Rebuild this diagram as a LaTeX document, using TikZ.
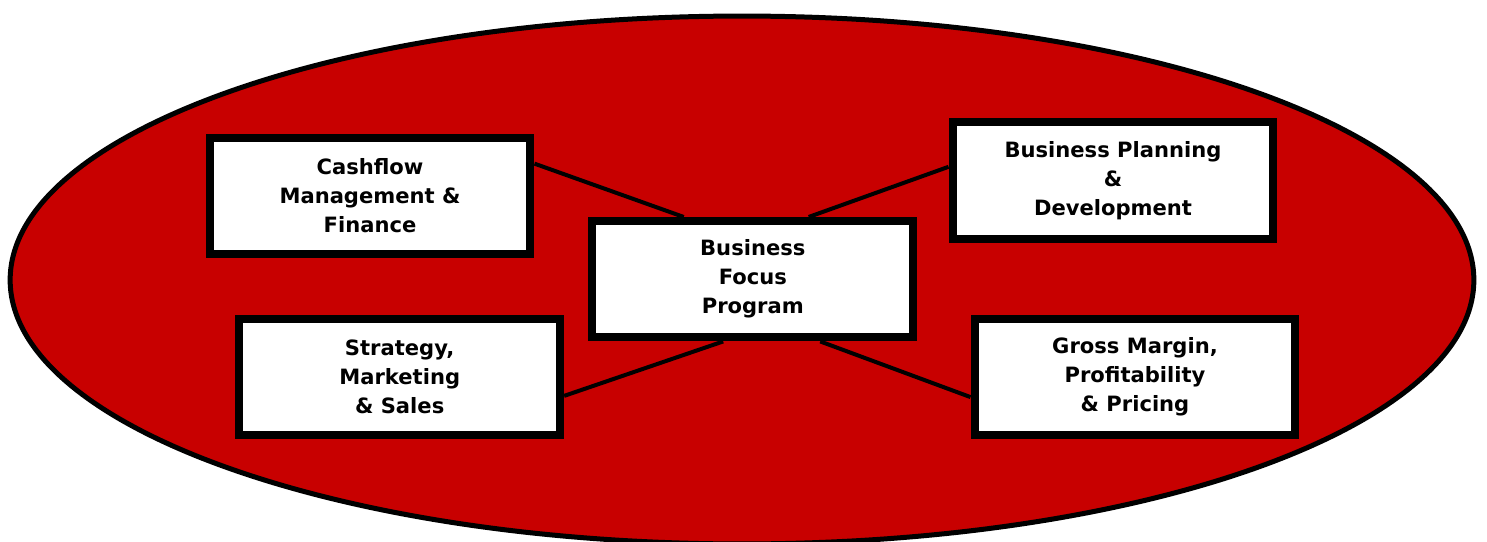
\documentclass[tikz,border=0pt]{standalone}
\usepackage{fontspec}
\setsansfont{DejaVu Sans}
\usepackage{tikz}
\usetikzlibrary{calc, positioning}
\definecolor{focusred}{RGB}{200,0,0}
\tikzset{
  topic/.style={draw=black, fill=white, line width=0.16cm, minimum width=6.42cm,
    minimum height=2.33cm, align=center, inner sep=0pt,
    font=\sffamily\bfseries\fontsize{12}{16.5}\selectfont},
  link/.style={draw=black, line width=0.08cm}
}

\begin{document}
\begin{tikzpicture}[x=0.02cm, y=-0.02cm]
\useasboundingbox (0,0) rectangle (1487,541);
\draw[line width=0.1cm, fill=focusred] (742,280) ellipse [x radius=14.64cm, y radius=5.28cm];

\node[topic] (focus) at (752.8,279.2) {Business\\Focus\\Program};
\node[topic] (cash)  at (370,196)     {Cashflow\\Management \&\\Finance};
\node[topic] (plan)  at (1113,180.5)  {Business Planning\\\&\\Development};
\node[topic] (strat) at (399.7,377.2) {Strategy,\\Marketing\\\& Sales};
\node[topic] (gross) at (1135,377.2)  {Gross Margin,\\Profitability\\\& Pricing};

\draw[link] ($(cash.north east)!0.24!(cash.south east)$) -- ($(focus.north west)!0.29!(focus.north east)$);
\draw[link] ($(plan.north west)!0.39!(plan.south west)$) -- ($(focus.north west)!0.67!(focus.north east)$);
\draw[link] ($(strat.north east)!0.65!(strat.south east)$) -- ($(focus.south west)!0.41!(focus.south east)$);
\draw[link] ($(gross.north west)!0.66!(gross.south west)$) -- ($(focus.south west)!0.705!(focus.south east)$);
\end{tikzpicture}
\end{document}
